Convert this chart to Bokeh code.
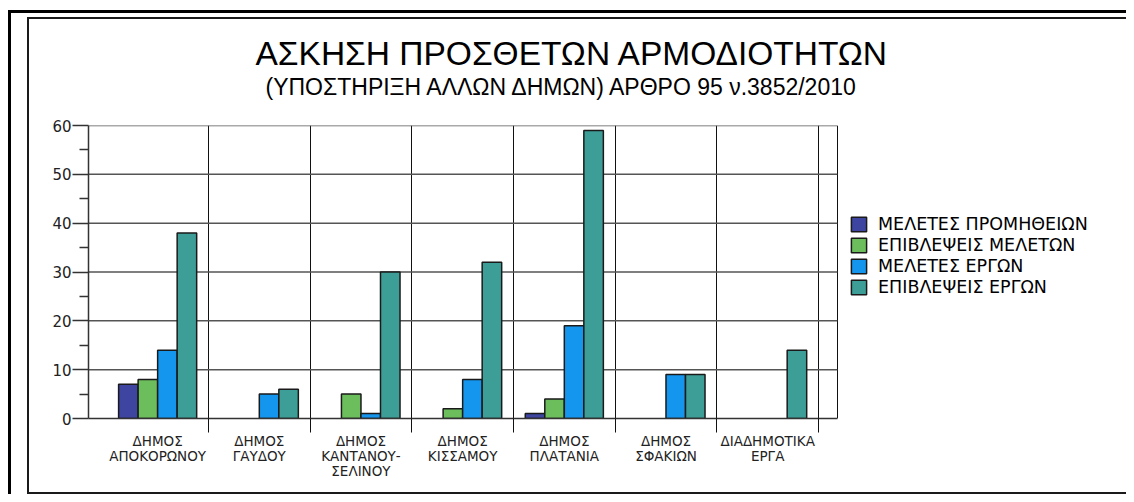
from jinja2 import Template
from bokeh.plotting import figure
from bokeh.models import FixedTicker, Title, Legend, LegendItem, ColumnDataSource, Range1d
from bokeh.embed import file_html
from bokeh.resources import INLINE

# ---- data ----
categories = ["ΔΗΜΟΣ\nΑΠΟΚΟΡΩΝΟΥ", "ΔΗΜΟΣ\nΓΑΥΔΟΥ", "ΔΗΜΟΣ\nΚΑΝΤΑΝΟΥ-\nΣΕΛΙΝΟΥ",
              "ΔΗΜΟΣ\nΚΙΣΣΑΜΟΥ", "ΔΗΜΟΣ\nΠΛΑΤΑΝΙΑ", "ΔΗΜΟΣ\nΣΦΑΚΙΩΝ", "ΔΙΑΔΗΜΟΤΙΚΑ\nΕΡΓΑ"]
series_names = ["ΜΕΛΕΤΕΣ ΠΡΟΜΗΘΕΙΩΝ", "ΕΠΙΒΛΕΨΕΙΣ ΜΕΛΕΤΩΝ", "ΜΕΛΕΤΕΣ ΕΡΓΩΝ", "ΕΠΙΒΛΕΨΕΙΣ ΕΡΓΩΝ"]
meletes_promitheion = [7, 0, 0, 0, 1, 0, 0]
epivlepseis_meleton = [8, 0, 5, 2, 4, 0, 0]
meletes_ergon = [14, 5, 1, 8, 19, 9, 0]
epivlepseis_ergon = [38, 6, 30, 32, 59, 9, 14]
y_ticks = [0, 10, 20, 30, 40, 50, 60]
y_minor = [5, 15, 25, 35, 45, 55]
title_text = "ΑΣΚΗΣΗ ΠΡΟΣΘΕΤΩΝ ΑΡΜΟΔΙΟΤΗΤΩΝ"
subtitle_text = "(ΥΠΟΣΤΗΡΙΞΗ ΑΛΛΩΝ ΔΗΜΩΝ) ΑΡΘΡΟ 95 ν.3852/2010"

colors = ["#3d45a0", "#6cbd5c", "#1596ee", "#3d9e97"]
series_values = [meletes_promitheion, epivlepseis_meleton, meletes_ergon, epivlepseis_ergon]

n = len(categories)
bw = 0.192
centers = [i + 0.5 for i in range(n)]
bounds = [i + 1 for i in range(n)]
x0 = -0.18            # left edge of the chart area (category units)
x1 = n + 0.185        # right edge of the chart area
px_per_unit = 101.67
frame_w = 1100 - 59 - 10
x_end = x0 + frame_w / px_per_unit   # frame extends right to hold the legend

p = figure(width=1100, height=473, title=None, toolbar_location=None, output_backend="svg",
           x_range=Range1d(x0, x_end), y_range=Range1d(0, 60),
           min_border_left=59, min_border_right=10, min_border_top=106, min_border_bottom=74)
p.background_fill_color = "white"
p.border_fill_color = "white"
p.outline_line_color = None

# horizontal grid lines, limited to the chart area
p.ygrid.visible = False
grid_y = [t for t in y_ticks if t > 0]
p.segment(x0=[x0] * len(grid_y), x1=[x1] * len(grid_y), y0=grid_y, y1=grid_y,
          line_color="#555555", line_width=1.5)

items = []
for j, (name, vals) in enumerate(zip(series_names, series_values)):
    xs = [centers[i] + (j - 1.5) * bw for i, v in enumerate(vals) if v > 0]
    tops = [v for v in vals if v > 0]
    src = ColumnDataSource(dict(x=xs, top=tops))
    r = p.vbar(x="x", top="top", bottom=0, width=bw, source=src,
               fill_color=colors[j], line_color="#1a1a1a", line_width=1.5)
    items.append(LegendItem(label=name, renderers=[r]))

# vertical separators between categories
p.xgrid.ticker = FixedTicker(ticks=bounds + [x1])
p.xgrid.bounds = (0, 60)
p.xgrid.grid_line_color = "#111111"
p.xgrid.grid_line_width = 1

# y axis
ya = p.yaxis[0]
ya.ticker = FixedTicker(ticks=y_ticks, minor_ticks=y_minor)
ya.major_tick_out = 16
ya.major_tick_in = 0
ya.minor_tick_out = 9
ya.minor_tick_in = 0
ya.major_tick_line_color = "#333333"
ya.minor_tick_line_color = "#333333"
ya.major_tick_line_width = 1.5
ya.minor_tick_line_width = 1.5
ya.axis_line_color = "#333333"
ya.axis_line_width = 1.5
ya.major_label_standoff = 1
ya.major_label_text_font = "DejaVu Sans"
ya.major_label_text_font_size = "15px"
ya.major_label_text_color = "#222222"

# x axis
xa = p.xaxis[0]
xa.bounds = (x0, x1)
xa.ticker = FixedTicker(ticks=centers, minor_ticks=bounds)
xa.major_label_overrides = {c: lab for c, lab in zip(centers, categories)}
xa.major_tick_out = 14
xa.major_tick_in = 0
xa.major_tick_line_color = None
xa.minor_tick_out = 14
xa.minor_tick_in = 0
xa.minor_tick_line_color = "#111111"
xa.minor_tick_line_width = 1
xa.axis_line_color = "#333333"
xa.axis_line_width = 1.5
xa.major_label_standoff = 0
xa.major_label_text_font = "DejaVu Sans"
xa.major_label_text_font_size = "13.5px"
xa.major_label_text_color = "#222222"
xa.major_label_text_line_height = 0.95

# titles (added from frame outward)
spacer = Title(text=" ", text_font_size="14px")
sub = Title(text=subtitle_text, align="left", offset=177, text_font="Liberation Sans",
            text_font_size="23px", text_font_style="normal", text_color="black")
main = Title(text=title_text, align="left", offset=167, text_font="Liberation Sans",
             text_font_size="33.5px", text_font_style="normal", text_color="black")
if "standoff" in Title.properties():
    main.standoff = 0
    sub.standoff = 0
    spacer.standoff = max(spacer.standoff - 2, 0)
p.add_layout(spacer, "above")
p.add_layout(sub, "above")
p.add_layout(main, "above")

legend = Legend(items=items, location=(761, 121), orientation="vertical",
                border_line_color=None, background_fill_alpha=0, margin=0, padding=0,
                spacing=1, glyph_width=19, glyph_height=18, label_height=18,
                label_standoff=10, label_text_font="DejaVu Sans", label_text_font_size="17.5px",
                label_text_color="black")
p.add_layout(legend)

template = Template("""<!DOCTYPE html>
<html lang="en">
<head>
<meta charset="utf-8">
<title>{{ title if title else "Bokeh Plot" }}</title>
{{ bokeh_css }}
{{ bokeh_js }}
<style>
html { overflow: hidden; }
body { margin: 8px; }
.outer { margin-top: 2px; border: 3px solid black; border-bottom: none;
         padding: 4px 0 0 16px; width: 1104px; height: 477px; box-sizing: content-box; }
.inner { border: 2px solid #1a1a1a; width: 1100px; height: 473px; box-sizing: content-box;
         overflow: hidden; }
</style>
</head>
<body>
<div class="outer"><div class="inner">
{{ plot_div }}
</div></div>
{{ plot_script }}
</body>
</html>
""")

open("out.html", "w").write(file_html(p, INLINE, template=template))
